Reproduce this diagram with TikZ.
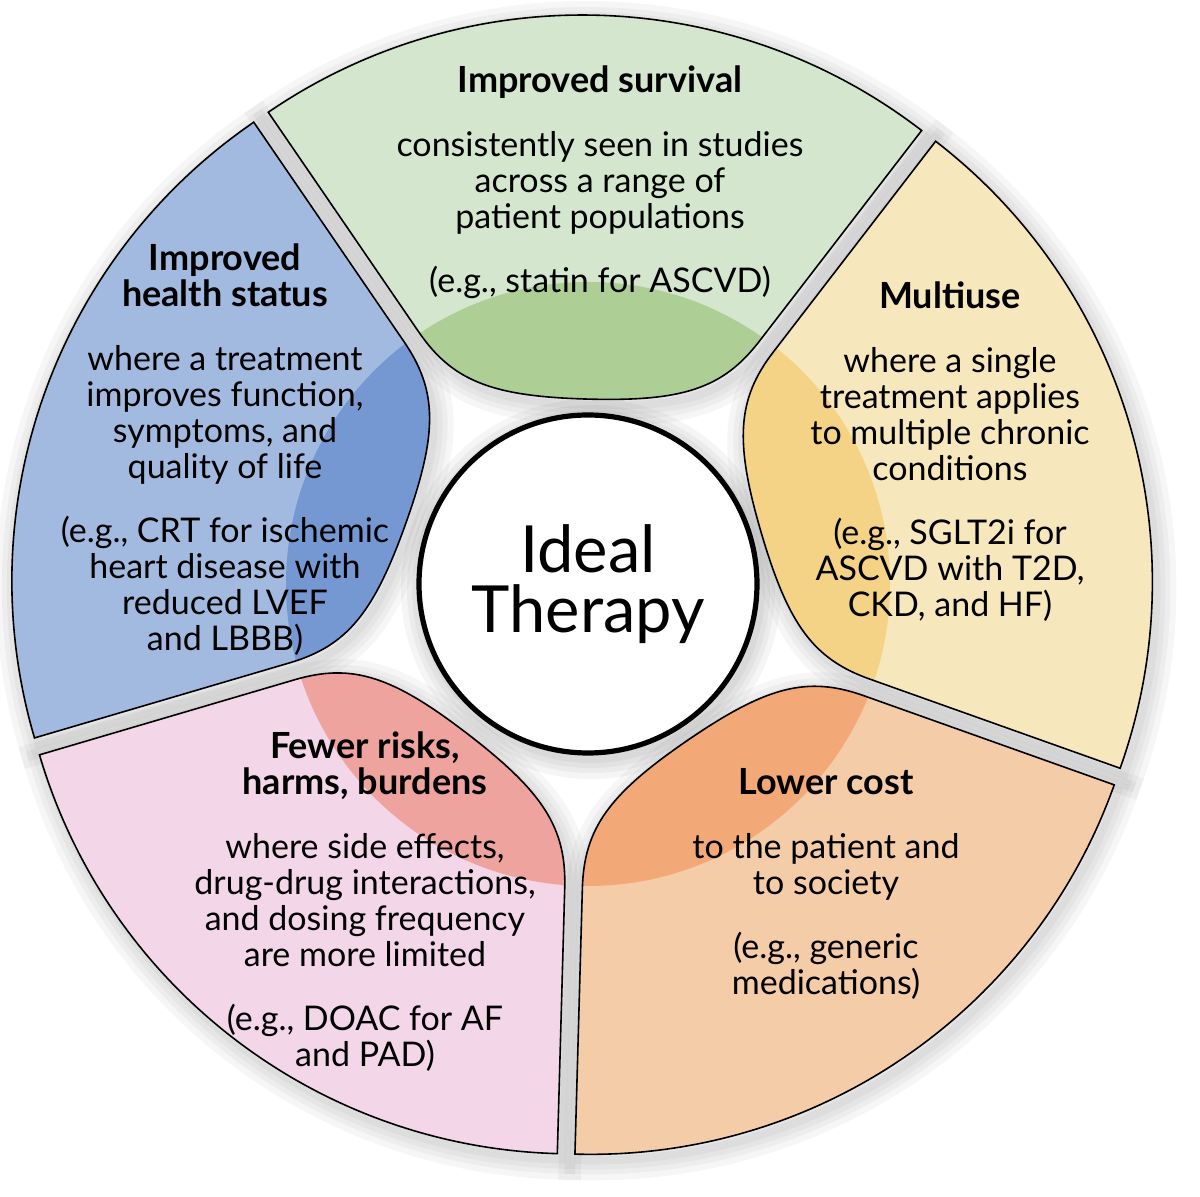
\documentclass[tikz,border=0pt]{standalone}
\usepackage{fontspec}
\setmainfont{Lato}
\usetikzlibrary{positioning}
\definecolor{survivalfill}{HTML}{D4E6CE}
\definecolor{survivalcore}{HTML}{ADCF96}
\definecolor{healthfill}{HTML}{A2BAE0}
\definecolor{healthcore}{HTML}{7598D2}
\definecolor{multifill}{HTML}{F6E7BC}
\definecolor{multicore}{HTML}{F4D387}
\definecolor{risksfill}{HTML}{F3D7E8}
\definecolor{riskscore}{HTML}{EFA39E}
\definecolor{costfill}{HTML}{F5CCA8}
\definecolor{costcore}{HTML}{F2A877}
\newcommand{\headline}[1]{{\fontsize{18}{18}\selectfont\bfseries #1}}
\tikzset{
    petal/.style={insert path={
        (36:556) arc[start angle=36, end angle=-36, radius=556]
        -- (-36:290) .. controls (-36:230) and (172,-95) .. (172,0)
        .. controls (172,95) and (36:230) .. (36:290) -- cycle}},
    petaltext/.style={align=center, text=black,
        font=\fontsize{17}{18}\selectfont}
}

\begin{document}
\begin{tikzpicture}[x=0.5pt, y=0.5pt]
\useasboundingbox (-582,-611) rectangle (618,586);

\foreach \m in {88.4,160.4,232.4,304.4,16.4} {
    \foreach \w in {20,14,9,4}
        \draw[line width=\w pt, black, opacity=0.035,
            shift={(4,-6)}, shift={(\m:15)}, rotate=\m, petal];
}
\foreach \w in {20,14,9,4}
    \draw[line width=\w pt, black, opacity=0.04] (9,-3) circle[radius=170];

\foreach \m/\lite/\core in {88.4/survivalfill/survivalcore,
        160.4/healthfill/healthcore, 232.4/risksfill/riskscore,
        304.4/costfill/costcore, 16.4/multifill/multicore} {
    \fill[\lite, shift={(\m:15)}, rotate=\m, petal];
    \begin{scope}
        \clip[shift={(\m:15)}, rotate=\m, petal];
        \fill[\core] (6,2) circle[radius=302];
    \end{scope}
    \draw[line width=0.8pt, shift={(\m:15)}, rotate=\m, petal];
}

\node[
    circle,
    draw=black,
    fill=white,
    line width=2.6pt,
    minimum size=169pt,
    align=center,
    font=\fontsize{32.5}{30}\selectfont
] (ideal) at (6,2) {Ideal\\Therapy};

\node[petaltext] (survival) at (18,403.5) {
    \headline{Improved survival}\\[14pt]
    consistently seen in studies\\
    across a range of\\
    patient populations\\[14pt]
    (e.g., statin for ASCVD)};
\node[petaltext] (health) at (-357,136) {
    \headline{Improved}\\
    \headline{health status}\\[14pt]
    where a treatment\\
    improves function,\\
    symptoms, and\\
    quality of life\\[14pt]
    (e.g., CRT for ischemic\\
    heart disease with\\
    reduced LVEF\\
    and LBBB)};
\node[petaltext] (multiuse) at (368,134) {
    \headline{Multiuse}\\[14pt]
    where a single\\
    treatment applies\\
    to multiple chronic\\
    conditions\\[14pt]
    (e.g., SGLT2i for\\
    ASCVD with T2D,\\
    CKD, and HF)};
\node[petaltext] (risks) at (-217,-316) {
    \headline{Fewer risks,}\\
    \headline{harms, burdens}\\[14pt]
    where side effects,\\
    drug-drug interactions,\\
    and dosing frequency\\
    are more limited\\[14pt]
    (e.g., DOAC for AF\\
    and PAD)};
\node[petaltext] (cost) at (244,-298) {
    \headline{Lower cost}\\[14pt]
    to the patient and\\
    to society\\[14pt]
    (e.g., generic\\
    medications)};
\end{tikzpicture}
\end{document}
